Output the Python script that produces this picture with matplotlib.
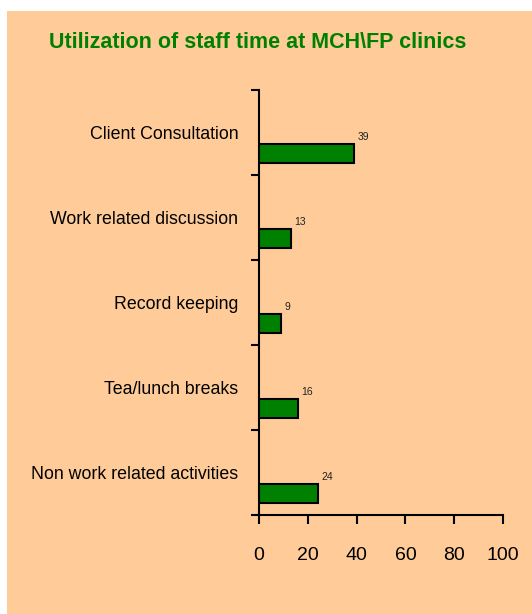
import matplotlib.pyplot as plt
from matplotlib.patches import Rectangle

categories = ['Client Consultation', 'Work related discussion', 'Record keeping',
              'Tea/lunch breaks', 'Non work related activities']
values = [39, 13, 9, 16, 24]
x_ticks = [0, 20, 40, 60, 80, 100]

peach = '#FFCC99'
green = '#008000'
plt.rcParams['font.family'] = ['Liberation Sans', 'DejaVu Sans']

fig = plt.figure(figsize=(5.32, 6.14), dpi=100)
fig.patch.set_facecolor('white')
# peach panel with a thin white margin at top/left
fig.patches.append(Rectangle((7 / 532, 0), 1, 1 - 11 / 614, transform=fig.transFigure,
                             facecolor=peach, edgecolor='none', zorder=-1))

ax = fig.add_axes([259 / 532, 99 / 614, 244 / 532, 425 / 614])
ax.set_facecolor('none')

pos = list(range(len(categories)))
bar_pos = [p + 0.25 for p in pos]
ax.barh(bar_pos, values, height=0.22, color=green, edgecolor='black', linewidth=1.5)

for y, v in zip(bar_pos, values):
    ax.annotate(str(v), (v, y - 0.11), xytext=(2.5, 1.5), textcoords='offset points',
                fontsize=7.5, ha='left', va='bottom', color='#222222')

ax.set_ylim(len(categories) - 0.5, -0.5)
ax.set_xlim(0, 100)
ax.set_yticks([p - 0.5 for p in pos] + [len(categories) - 0.5])
ax.set_yticklabels([])
ax.set_yticks(pos, minor=True)
ax.set_yticklabels(categories, minor=True, fontsize=12.8)
ax.tick_params(axis='y', which='minor', length=0, pad=15)
ax.tick_params(axis='y', which='major', length=6, width=1.5)
ax.set_xticks(x_ticks)
ax.set_xticklabels([str(t) for t in x_ticks], fontsize=14)
ax.tick_params(axis='x', length=6.5, width=1.5, pad=16.5)

for s in ['top', 'right']:
    ax.spines[s].set_visible(False)
for s in ['left', 'bottom']:
    ax.spines[s].set_linewidth(1.5)

fig.text(258 / 532, 1 - 42 / 614, 'Utilization of staff time at MCH\\FP clinics',
         ha='center', va='center', fontsize=15.5, fontweight='bold', color=green)

fig.savefig('out.png', dpi=100)
